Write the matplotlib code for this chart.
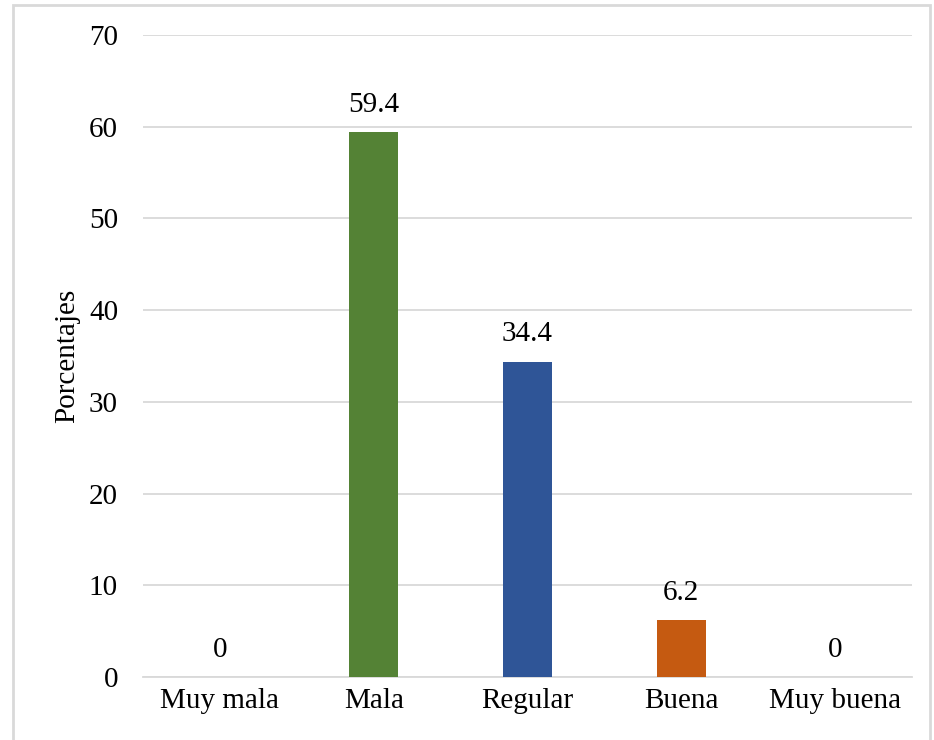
import matplotlib.pyplot as plt
from matplotlib.patches import Rectangle

categorias = ['Muy mala', 'Mala', 'Regular', 'Buena', 'Muy buena']
porcentajes = [0, 59.4, 34.4, 6.2, 0]
etiquetas = ['0', '59.4', '34.4', '6.2', '0']
colores = ['#548235', '#548235', '#2F5597', '#C55A11', '#C55A11']

plt.rcParams['font.family'] = ['Liberation Serif', 'DejaVu Serif']

fig = plt.figure(figsize=(9.34, 7.4), dpi=100)
ax = fig.add_axes([143/934, 1-677/740, (912-143)/934, (677-35)/740])

x = range(len(categorias))
ax.bar(x, porcentajes, width=0.32, color=colores, zorder=3)
for xi, v, t in zip(x, porcentajes, etiquetas):
    ax.text(xi, v + 1.55, t, ha='center', va='bottom', fontsize=21)

ax.set_xlim(-0.5, 4.5)
ax.set_ylim(0, 70)
ax.set_yticks(range(0, 71, 10))
ax.set_xticks(list(x))
ax.set_xticklabels(categorias, fontsize=21)
ax.tick_params(axis='y', labelsize=21, length=0, pad=18)
ax.tick_params(axis='x', length=0, pad=8)
ax.grid(axis='y', color='#D9D9D9', linewidth=1.3, zorder=0)
for s in ['top', 'right', 'left']:
    ax.spines[s].set_visible(False)
ax.spines['bottom'].set_color('#D9D9D9')
ax.spines['bottom'].set_linewidth(1.3)
ax.set_ylabel('Porcentajes', fontsize=21, labelpad=6)

# borde del grafico
fig.patches.append(Rectangle((13/934, -0.02), 917/934, 1.02 - 5/740,
                             transform=fig.transFigure, fill=False,
                             edgecolor='#D9D9D9', linewidth=2))

fig.savefig('out.png', dpi=100)
